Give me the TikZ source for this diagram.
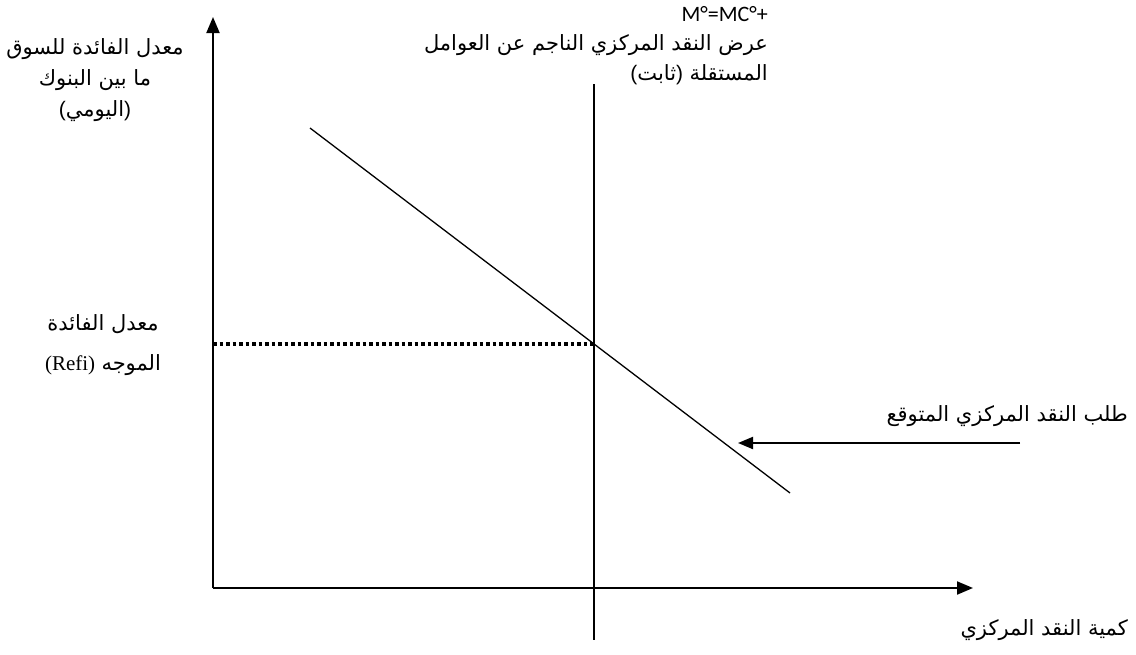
\documentclass[tikz,border=0pt]{standalone}
\usepackage{fontspec}
\usetikzlibrary{arrows.meta,positioning}
\TeXXeTstate=1
\newfontfamily\arabicfont[Script=Arabic]{DejaVu Sans}
\newfontfamily\parenfont{Liberation Sans}
\newfontfamily\refifont{Liberation Serif}
\newfontfamily\formulafont{Carlito}
\newcommand{\arR}[1]{{\arabicfont\beginR #1\endR}}
\newcommand{\inparen}[1]{{\parenfont(}\arR{#1}{\parenfont)}}

\tikzset{
  axisline/.style={line width=2pt, -{Triangle[length=16pt,width=13pt]}},
  curveline/.style={line width=1.3pt},
  guideline/.style={line width=3.5pt, dash pattern=on 3.5pt off 3pt},
  pointer/.style={line width=2pt, -{Triangle[length=15pt,width=12pt]}},
  axlabel/.style={font=\fontsize{21}{31}\selectfont, align=center, inner sep=0pt},
  notelabel/.style={font=\fontsize{21}{29.5}\selectfont, align=right, inner sep=0pt},
}

\begin{document}
\begin{tikzpicture}[x=1pt, y=-1pt]
  \useasboundingbox (0,0) rectangle (1136,654);

  % axes
  \coordinate (origin) at (213,588);
  \coordinate (ytop) at (213,17);
  \coordinate (xend) at (973,588);
  \draw[axisline] (origin) -- (ytop);
  \draw[axisline] (origin) -- (xend);

  % supply of central money (fixed) and expected demand
  \coordinate (supplyTop) at (594,84);
  \coordinate (supplyBot) at (594,640);
  \coordinate (demandTop) at (310,128);
  \coordinate (demandBot) at (790,493);
  \draw[curveline] (supplyTop) -- (supplyBot);
  \draw[curveline] (demandTop) -- (demandBot);
  \coordinate (cross) at (intersection of supplyTop--supplyBot and demandTop--demandBot);
  \draw[guideline] (origin |- cross) -- (cross);

  % labels
  \node[axlabel] (rateLabel) at (95,80)
    {\arR{معدل الفائدة للسوق}\\ \arR{ما بين البنوك}\\ \inparen{اليومي}};
  \node[axlabel, font=\fontsize{21}{40}\selectfont] (refiLabel) at (103,345)
    {\arR{معدل الفائدة}\\ {\refifont (Refi)} \arR{الموجه}};
  \node[notelabel, anchor=north east] (supplyLabel) at (768,6)
    {{\formulafont\fontsize{22}{29.5}\selectfont M°=MC°+}\\ \arR{عرض النقد المركزي الناجم عن العوامل}\\
     \inparen{ثابت} \arR{المستقلة}};
  \node[notelabel, anchor=east] (demandLabel) at (1128,416) {\arR{طلب النقد المركزي المتوقع}};
  \node[notelabel, anchor=east] (qtyLabel) at (1128,630) {\arR{كمية النقد المركزي}};

  % pointer to the demand line
  \coordinate (pointTail) at (1020,443);
  \coordinate (pointHead) at (738,443);
  \draw[pointer] (pointTail) -- (pointHead);
\end{tikzpicture}
\end{document}
